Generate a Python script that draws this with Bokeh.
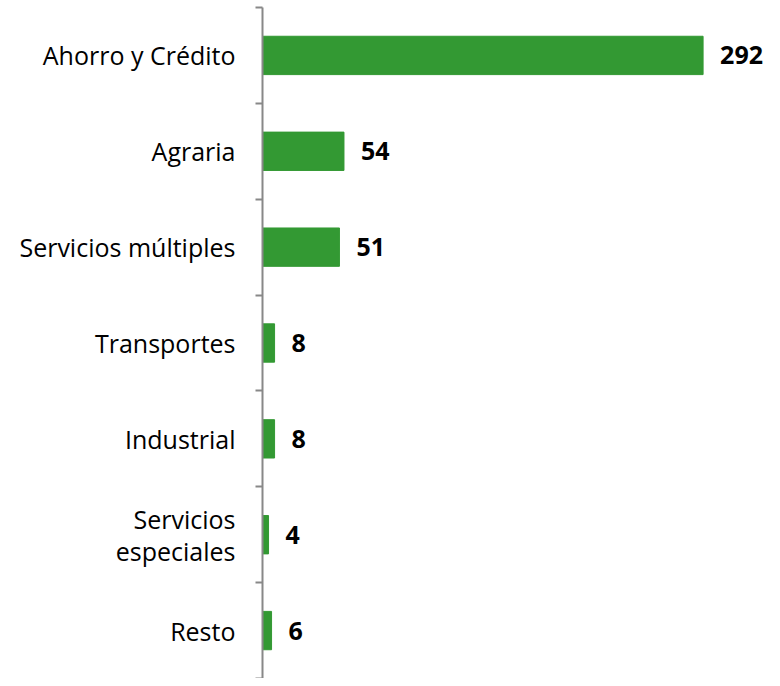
from bokeh.plotting import figure
from bokeh.models import ColumnDataSource, FixedTicker, Range1d
from bokeh.core.properties import value
from bokeh.embed import file_html
from bokeh.resources import INLINE

categories = ["Ahorro y Crédito", "Agraria", "Servicios múltiples", "Transportes",
              "Industrial", "Servicios\nespeciales", "Resto"]
values = [292, 54, 51, 8, 8, 4, 6]

n = len(categories)
ypos = [n - i - 0.5 for i in range(n)]
labels = [str(v) for v in values]

src = ColumnDataSource(dict(y=ypos, v=values, lab=labels))

p = figure(width=772, height=678, output_backend="svg", toolbar_location=None,
           x_range=Range1d(0, 338), y_range=Range1d(0, n),
           min_border_left=262, min_border_right=0, min_border_top=7, min_border_bottom=0)
p.outline_line_color = None
p.xgrid.visible = False
p.ygrid.visible = False
p.xaxis.visible = False

p.hbar(y="y", right="v", left=0, height=0.4, source=src, color="#339933")
p.text(x="v", y="y", text="lab", source=src, x_offset=17, text_align="left",
       text_baseline="middle", text_font=value("Open Sans"), text_font_size="25px",
       text_font_style="bold", text_color="black")

ax = p.yaxis[0]
ax.ticker = FixedTicker(ticks=ypos, minor_ticks=list(range(n + 1)))
ax.major_label_overrides = {y: c for y, c in zip(ypos, categories)}
ax.major_tick_out = 0
ax.major_tick_in = 0
ax.minor_tick_out = 7
ax.minor_tick_in = 0
ax.minor_tick_line_color = "#888888"
ax.minor_tick_line_width = 2
ax.axis_line_color = "#888888"
ax.axis_line_width = 2
ax.major_label_text_font = "Open Sans"
ax.major_label_text_font_size = "25px"
ax.major_label_text_color = "black"
ax.major_label_text_line_height = 0.95
ax.major_label_standoff = 20

open("out.html", "w").write(file_html(p, INLINE))
